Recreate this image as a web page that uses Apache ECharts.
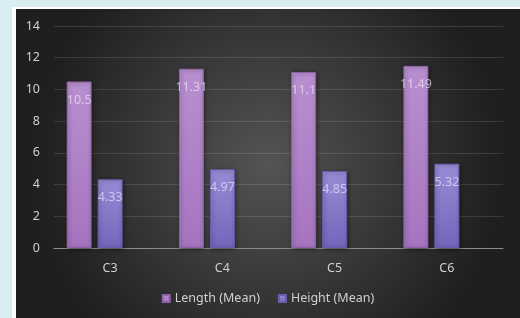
<!DOCTYPE html>
<html>
<head>
<meta charset="utf-8">
<script src="https://cdn.jsdelivr.net/npm/echarts@6/dist/echarts.min.js"></script>
<style>
  html, body { margin: 0; padding: 0; width: 520px; height: 318px; overflow: hidden; background: #d9edf3; }
  #frame { position: absolute; left: 12px; top: 7px; width: 508px; height: 311px; background: #ffffff; }
  #chart { position: absolute; left: 16px; top: 9px; width: 504px; height: 309px; }
</style>
</head>
<body>
<div id="frame"></div>
<div id="chart"></div>
<script>
const categories = ['C3', 'C4', 'C5', 'C6'];
const lengthMean = [10.5, 11.31, 11.1, 11.49];
const heightMean = [4.33, 4.97, 4.85, 5.32];
const emptySeries = [null, null, null, null];
const yTicks = [0, 2, 4, 6, 8, 10, 12, 14];

const font = '"Noto Sans", "Open Sans", sans-serif';
const chart = echarts.init(document.getElementById('chart'), null, { renderer: 'canvas' });

const labelStyle = {
  show: true,
  position: 'insideTop',
  distance: 12,
  color: 'rgba(240,230,250,0.68)',
  fontSize: 12.5,
  fontFamily: font
};

chart.setOption({
  animation: false,
  backgroundColor: {
    type: 'radial', x: 0.5, y: 0.5, r: 0.75,
    colorStops: [
      { offset: 0, color: '#545454' },
      { offset: 1, color: '#1f1f1f' }
    ]
  },
  grid: { left: 38, right: 17, top: 17, bottom: 70, containLabel: false },
  legend: {
    data: ['Length (Mean)', 'Height (Mean)'],
    bottom: 8,
    left: 'center',
    itemWidth: 7,
    itemHeight: 7,
    itemGap: 18,
    icon: 'rect',
    textStyle: { color: '#d0d0d0', fontSize: 12.5, fontFamily: font }
  },
  xAxis: {
    type: 'category',
    data: categories,
    axisLine: { lineStyle: { color: '#8c8c8c', width: 1 } },
    axisTick: { show: false },
    axisLabel: { color: '#d0d0d0', fontSize: 12.5, fontFamily: font, margin: 14 }
  },
  yAxis: {
    type: 'value',
    min: yTicks[0],
    max: yTicks[yTicks.length - 1],
    interval: 2,
    axisLine: { show: false },
    axisTick: { show: false },
    axisLabel: { color: '#d0d0d0', fontSize: 12.5, fontFamily: font, margin: 14 },
    splitLine: { lineStyle: { color: 'rgba(255,255,255,0.12)', width: 1 } }
  },
  series: [
    {
      name: 'Length (Mean)',
      type: 'bar',
      data: lengthMean,
      barGap: '24%',
      barCategoryGap: '22.5%',
      itemStyle: {
        color: {
          type: 'linear', x: 0, y: 0, x2: 0, y2: 1,
          colorStops: [
            { offset: 0, color: '#b98fd0' },
            { offset: 1, color: '#a674bf' }
          ]
        },
        borderColor: '#8e62a6',
        borderWidth: 1,
        shadowColor: 'rgba(0,0,0,0.45)',
        shadowBlur: 4,
        shadowOffsetX: 1,
        shadowOffsetY: 1
      },
      label: labelStyle
    },
    {
      name: 'Height (Mean)',
      type: 'bar',
      data: heightMean,
      itemStyle: {
        color: {
          type: 'linear', x: 0, y: 0, x2: 0, y2: 1,
          colorStops: [
            { offset: 0, color: '#968dd6' },
            { offset: 1, color: '#7465bb' }
          ]
        },
        borderColor: '#6a5dab',
        borderWidth: 1,
        shadowColor: 'rgba(0,0,0,0.45)',
        shadowBlur: 4,
        shadowOffsetX: 1,
        shadowOffsetY: 1
      },
      label: labelStyle
    },
    {
      name: 'Width (Mean)',
      type: 'bar',
      data: emptySeries,
      itemStyle: { color: 'transparent' }
    }
  ]
});
</script>
</body>
</html>
